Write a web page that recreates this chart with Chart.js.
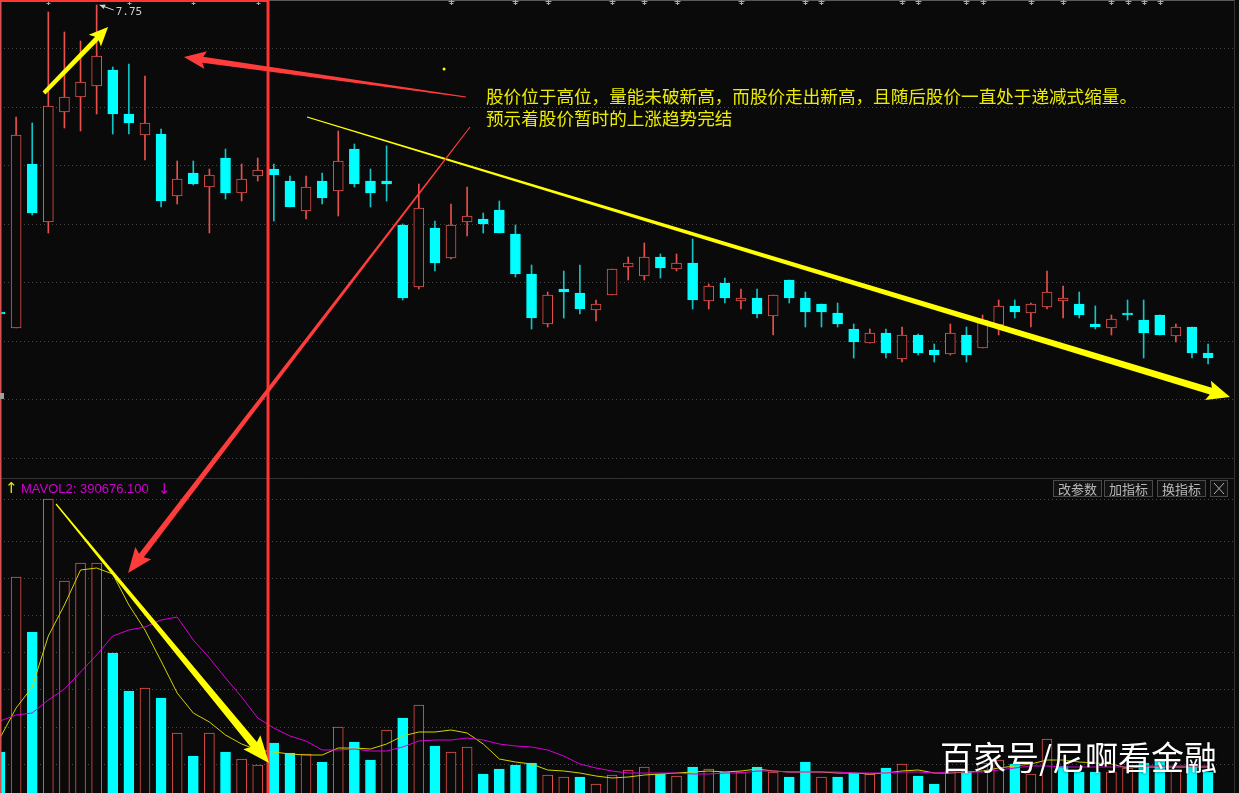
<!DOCTYPE html>
<html>
<head>
<meta charset="utf-8">
<script src="https://cdn.jsdelivr.net/npm/chart.js@4.4.1/dist/chart.umd.min.js"></script>
<style>
  html, body { margin: 0; padding: 0; background: #0a0a0a; overflow: hidden; }
  #wrap { width: 1239px; height: 793px; }
</style>
</head>
<body>
<div id="wrap"><canvas id="kline" width="1239" height="793"></canvas></div>
<script>
// daily candles (index 0 is the half-cut one on the left edge)
const open = [6.215, 6.135, 6.955, 6.665, 7.215, 7.290, 7.345, 7.425, 7.205, 7.100,
  7.105, 6.795, 6.910, 6.840, 6.985, 6.810, 6.895, 6.930, 6.870, 6.720,
  6.870, 6.820, 7.030, 6.870, 6.870, 6.650, 6.340, 6.635, 6.485, 6.665,
  6.680, 6.725, 6.605, 6.405, 6.155, 6.330, 6.310, 6.225, 6.300, 6.440,
  6.395, 6.490, 6.430, 6.460, 6.270, 6.360, 6.270, 6.285, 6.195, 6.375,
  6.285, 6.255, 6.210, 6.130, 6.060, 6.110, 5.980, 6.100, 6.025, 6.005,
  6.100, 6.035, 6.150, 6.245, 6.210, 6.240, 6.270, 6.255, 6.155, 6.135,
  6.210, 6.175, 6.200, 6.095, 6.140, 6.010];
const high = [6.235, 7.190, 7.160, 7.715, 7.615, 7.570, 7.750, 7.440, 7.455, 7.395,
  7.130, 6.970, 6.970, 6.930, 7.030, 6.955, 6.985, 6.955, 6.895, 6.895,
  6.910, 7.120, 7.055, 6.930, 7.045, 6.655, 6.855, 6.670, 6.755, 6.840,
  6.710, 6.770, 6.650, 6.450, 6.315, 6.420, 6.450, 6.275, 6.430, 6.490,
  6.560, 6.505, 6.505, 6.580, 6.355, 6.385, 6.330, 6.330, 6.300, 6.375,
  6.315, 6.255, 6.260, 6.155, 6.130, 6.130, 6.140, 6.105, 6.055, 6.155,
  6.140, 6.200, 6.275, 6.275, 6.260, 6.420, 6.345, 6.315, 6.245, 6.200,
  6.275, 6.275, 6.200, 6.155, 6.140, 6.055];
const low = [6.185, 6.135, 6.700, 6.610, 7.135, 7.120, 7.205, 7.105, 7.105, 6.975,
  6.740, 6.755, 6.850, 6.610, 6.780, 6.770, 6.870, 6.670, 6.740, 6.680,
  6.755, 6.695, 6.840, 6.740, 6.770, 6.275, 6.330, 6.420, 6.480, 6.595,
  6.610, 6.610, 6.390, 6.130, 6.140, 6.185, 6.205, 6.170, 6.300, 6.375,
  6.375, 6.385, 6.420, 6.230, 6.230, 6.260, 6.230, 6.185, 6.100, 6.260,
  6.140, 6.140, 6.140, 5.985, 6.060, 5.985, 5.965, 6.000, 5.965, 6.000,
  5.965, 6.035, 6.100, 6.185, 6.140, 6.230, 6.185, 6.185, 6.130, 6.100,
  6.175, 5.985, 6.100, 6.065, 5.985, 5.955];
const close = [6.205, 7.100, 6.710, 7.245, 7.290, 7.365, 7.495, 7.205, 7.160, 7.160,
  6.770, 6.880, 6.855, 6.900, 6.810, 6.880, 6.925, 6.900, 6.740, 6.840,
  6.785, 6.970, 6.855, 6.810, 6.855, 6.285, 6.735, 6.460, 6.650, 6.695,
  6.655, 6.610, 6.405, 6.185, 6.300, 6.315, 6.230, 6.255, 6.430, 6.460,
  6.490, 6.435, 6.460, 6.275, 6.345, 6.285, 6.285, 6.205, 6.300, 6.285,
  6.215, 6.215, 6.155, 6.065, 6.110, 6.010, 6.100, 6.010, 6.000, 6.110,
  6.000, 6.175, 6.245, 6.215, 6.255, 6.315, 6.285, 6.200, 6.140, 6.180,
  6.200, 6.110, 6.100, 6.140, 6.010, 5.985];

// volume in 万手, and its colour (1 = red hollow, 0 = cyan)
const vol = [53.9, 246.4, 185.9, 332.2, 242.0, 261.8, 261.8, 162.8, 121.0, 124.3,
  113.3, 74.8, 49.5, 74.8, 53.9, 46.2, 39.6, 63.8, 52.8, 51.7,
  42.9, 81.4, 64.9, 45.1, 78.1, 91.3, 105.6, 60.5, 53.9, 59.4,
  29.7, 35.2, 39.6, 41.8, 28.6, 26.4, 26.4, 18.7, 28.6, 34.1,
  37.4, 29.7, 27.5, 37.4, 35.2, 31.9, 31.9, 37.4, 31.9, 26.4,
  42.9, 26.4, 26.4, 30.8, 29.7, 36.3, 40.7, 27.5, 18.7, 33.0,
  33.0, 41.8, 45.1, 40.7, 29.7, 68.2, 38.5, 31.9, 31.9, 31.9,
  36.3, 41.8, 46.2, 34.1, 38.5, 31.9];
const volUp = [0, 1, 0, 1, 1, 1, 1, 0, 0, 1, 0, 1, 0, 1, 0, 1, 1, 0, 0, 1,
  0, 1, 0, 0, 1, 0, 1, 0, 1, 1, 0, 0, 0, 0, 1, 1, 0, 1, 1, 1,
  1, 0, 1, 0, 1, 0, 1, 0, 1, 0, 0, 1, 0, 0, 1, 0, 1, 0, 0, 1,
  0, 1, 1, 0, 1, 1, 0, 0, 0, 1, 1, 0, 0, 1, 0, 0];
// MAVOL1 (yellow) and MAVOL2 (magenta)
const mavol1 = [69.3, 102.3, 125.4, 181.5, 215.6, 254.1, 256.3, 249.7, 215.6, 188.1,
  154.0, 118.8, 96.8, 86.9, 72.6, 62.7, 56.1, 53.9, 51.7, 50.6,
  50.6, 58.3, 58.3, 57.2, 62.7, 71.5, 75.9, 75.9, 78.1, 74.8,
  62.7, 46.2, 42.9, 40.7, 34.1, 33.0, 30.8, 27.5, 25.3, 26.4,
  28.6, 29.7, 30.8, 31.9, 33.0, 31.9, 33.0, 35.2, 33.0, 31.9,
  31.9, 31.9, 30.8, 30.8, 29.7, 30.8, 33.0, 34.1, 30.8, 30.8,
  31.9, 33.0, 36.3, 38.5, 40.7, 45.1, 45.1, 42.9, 41.8, 40.7,
  36.3, 37.4, 37.4, 37.4, 37.4, 37.4];
const mavol2 = [88.0, 94.6, 96.8, 111.1, 123.2, 141.9, 160.6, 181.5, 188.1, 191.4,
  199.1, 202.4, 177.1, 157.3, 135.3, 114.4, 91.3, 80.3, 71.5, 66.0,
  56.1, 56.1, 57.2, 55.0, 55.0, 59.4, 66.0, 67.1, 67.1, 69.3,
  67.1, 62.7, 60.5, 59.4, 56.1, 49.5, 40.7, 36.3, 33.0, 30.8,
  30.8, 30.8, 30.8, 29.7, 29.7, 30.8, 30.8, 33.0, 33.0, 31.9,
  31.9, 31.9, 31.9, 30.8, 30.8, 30.8, 31.9, 31.9, 30.8, 31.9,
  31.9, 31.9, 34.1, 36.3, 38.5, 38.5, 37.4, 37.4, 37.4, 37.4,
  37.4, 38.5, 38.5, 38.5, 38.5, 38.5];

// info-mine marks along the top edge (candle indexes)
const infoMarks = [3, 8, 12, 16, 28, 32, 34, 38, 40, 42, 46, 50, 51, 56, 57, 60, 61, 64, 66, 69, 70, 71, 72];
// dotted grid levels of the two panels
const priceGrid = [7.535, 7.2425, 6.95, 6.6575, 6.365, 6.0725, 5.78, 5.4875];
const volGrid = [40.9, 81.8, 122.7, 163.6, 204.5, 245.4, 286.3, 331.9];
const highMark = { x: 6, price: 7.75, text: '7.75' };
const mavolText = 'MAVOL2: 390676.100';
const noteLines = ['股价位于高位，量能未破新高，而股价走出新高，且随后股价一直处于递减式缩量。', '预示着股价暂时的上涨趋势完结'];
const buttons = ['改参数', '加指标', '换指标'];
const watermark = '百家号/尼啊看金融';

const BG = '#0a0a0a';
const RED = '#e8504c';
const CYAN = '#00ffff';
const CYAN_WICK = '#12c4c4';

const isUp = open.map((o, i) => close[i] > o);

// hand drawn marks, in data units: [index, value, axis]
const arrows = [
  { from: [2.73, 7.31, 'y'], to: [6.71, 7.64, 'y'], color: '#ffff00', w0: 4, w1: 5, hw: 17, hl: 16 },
  { from: [19.06, 7.19, 'y'], to: [76.36, 5.79, 'y'], color: '#ffff00', w0: 1.2, w1: 7, hw: 20, hl: 20 },
  { from: [3.48, 326.7, 'yv'], to: [16.70, 41.8, 'yv'], color: '#ffff00', w0: 1.2, w1: 8, hw: 22, hl: 24 },
  { from: [28.93, 7.29, 'y'], to: [11.42, 7.49, 'y'], color: '#ff3c3c', w0: 1.2, w1: 6, hw: 18, hl: 19 },
  { from: [29.18, 7.14, 'y'], to: [7.95, 250.8, 'yv'], color: '#ff3c3c', w0: 1, w1: 6, hw: 20, hl: 22 }
];
const boxRight = 16.64;   // red frame right edge (index units)
const frameRight = 76.6;  // right border of the panels

function taperArrow(ctx, x0, y0, x1, y1, a) {
  const dx = x1 - x0, dy = y1 - y0, len = Math.hypot(dx, dy);
  const ux = dx / len, uy = dy / len, nx = -uy, ny = ux;
  const bx = x1 - ux * a.hl, by = y1 - uy * a.hl;
  ctx.fillStyle = a.color;
  ctx.beginPath();
  ctx.moveTo(x0 + nx * a.w0 / 2, y0 + ny * a.w0 / 2);
  ctx.lineTo(bx + nx * a.w1 / 2, by + ny * a.w1 / 2);
  ctx.lineTo(bx - ux * 3 + nx * a.hw / 2, by - uy * 3 + ny * a.hw / 2);
  ctx.lineTo(x1, y1);
  ctx.lineTo(bx - ux * 3 - nx * a.hw / 2, by - uy * 3 - ny * a.hw / 2);
  ctx.lineTo(bx - nx * a.w1 / 2, by - ny * a.w1 / 2);
  ctx.lineTo(x0 - nx * a.w0 / 2, y0 - ny * a.w0 / 2);
  ctx.closePath();
  ctx.fill();
}

const drawings = {
  id: 'drawings',
  beforeDraw(chart) {
    const ctx = chart.ctx;
    ctx.save();
    ctx.fillStyle = BG;
    ctx.fillRect(0, 0, chart.width, chart.height);
    ctx.restore();
  },
  beforeDatasetsDraw(chart) {
    const { ctx, scales } = chart;
    const xr = scales.x.getPixelForValue(frameRight);
    ctx.save();
    ctx.strokeStyle = '#4a4a4a';
    ctx.lineWidth = 1;
    ctx.setLineDash([1, 3]);
    priceGrid.forEach(v => {
      const y = Math.round(scales.y.getPixelForValue(v)) + 0.5;
      ctx.beginPath(); ctx.moveTo(0, y); ctx.lineTo(xr, y); ctx.stroke();
    });
    volGrid.forEach(v => {
      const y = Math.round(scales.yv.getPixelForValue(v)) + 0.5;
      ctx.beginPath(); ctx.moveTo(0, y); ctx.lineTo(xr, y); ctx.stroke();
    });
    ctx.restore();
  },
  afterDatasetsDraw(chart) {
    const { ctx, scales } = chart;
    const X = v => scales.x.getPixelForValue(v);
    const Y = (v, ax) => scales[ax].getPixelForValue(v);
    const xr = Math.round(X(frameRight)) + 0.5;
    const sepY = Math.round(Y(priceGrid[7], 'y') + 20) + 0.5;
    const xb = X(boxRight);
    ctx.save();

    // panel frame
    ctx.strokeStyle = '#333';
    ctx.lineWidth = 1;
    ctx.beginPath(); ctx.moveTo(0, sepY); ctx.lineTo(xr, sepY); ctx.stroke();
    ctx.beginPath(); ctx.moveTo(xr, 0); ctx.lineTo(xr, chart.height); ctx.stroke();
    ctx.strokeStyle = '#5a5a5a';
    ctx.beginPath(); ctx.moveTo(xb, 0.5); ctx.lineTo(xr, 0.5); ctx.stroke();

    // info marks
    ctx.strokeStyle = '#a8a8a8';
    infoMarks.forEach(i => {
      const x = Math.round(X(i)) + 0.5;
      ctx.beginPath();
      ctx.moveTo(x, 0); ctx.lineTo(x, 5);
      ctx.moveTo(x - 3, 1.5); ctx.lineTo(x + 3, 1.5);
      ctx.moveTo(x - 2, 3.5); ctx.lineTo(x + 2, 3.5);
      ctx.stroke();
    });

    // red frame
    ctx.strokeStyle = '#ff3434';
    ctx.lineWidth = 2;
    ctx.beginPath(); ctx.moveTo(0, 1); ctx.lineTo(xb, 1); ctx.stroke();
    ctx.lineWidth = 3;
    ctx.beginPath(); ctx.moveTo(xb, 0); ctx.lineTo(xb, chart.height); ctx.stroke();
    ctx.strokeStyle = '#d85050';
    ctx.lineWidth = 1.5;
    ctx.beginPath(); ctx.moveTo(0.75, 0); ctx.lineTo(0.75, chart.height); ctx.stroke();

    // left price marker
    ctx.fillStyle = '#a0a0a0';
    ctx.fillRect(0, Math.round(Y(5.795, 'y')) - 3, 4, 6);

    // arrows
    arrows.forEach(a => {
      taperArrow(ctx, X(a.from[0]), Y(a.from[1], a.from[2]), X(a.to[0]), Y(a.to[1], a.to[2]), a);
    });
    ctx.fillStyle = '#ffff00';
    ctx.beginPath(); ctx.arc(X(27.57), Y(7.43, 'y'), 1.5, 0, Math.PI * 2); ctx.fill();

    // highest price label
    const hx = X(highMark.x) + 3, hy = Y(highMark.price, 'y');
    ctx.strokeStyle = '#d0d0d0';
    ctx.fillStyle = '#d0d0d0';
    ctx.lineWidth = 1;
    ctx.beginPath(); ctx.moveTo(hx, hy); ctx.lineTo(hx + 14, hy + 5); ctx.stroke();
    ctx.beginPath(); ctx.moveTo(hx, hy); ctx.lineTo(hx + 6, hy - 0.5); ctx.lineTo(hx + 4, hy + 4); ctx.closePath(); ctx.fill();
    ctx.font = '11px "DejaVu Sans Mono"';
    ctx.textBaseline = 'middle';
    ctx.fillText(highMark.text, hx + 16, hy + 7);

    // note text
    ctx.fillStyle = '#ecec00';
    ctx.font = '17.6px "Noto Sans CJK SC"';
    ctx.textBaseline = 'middle';
    ctx.fillText(noteLines[0], 486, 96);
    ctx.fillText(noteLines[1], 486, 118);

    // volume header
    ctx.font = '13px "Liberation Sans", "DejaVu Sans"';
    ctx.fillStyle = '#e8e800';
    ctx.font = '15px "DejaVu Sans"';
    ctx.fillText('↑', 5, 489);
    ctx.fillStyle = '#d000d0';
    ctx.fillText('↓', 158, 490);
    ctx.font = '13px "Liberation Sans", "DejaVu Sans"';
    ctx.fillText(mavolText, 21, 489);

    // buttons
    const bx = [1053, 1104, 1157];
    ctx.font = '13px "Noto Sans CJK SC"';
    ctx.textAlign = 'center';
    buttons.forEach((b, i) => {
      ctx.fillStyle = '#121212';
      ctx.fillRect(bx[i], 480, 49, 17);
      ctx.strokeStyle = '#4a4a4a';
      ctx.strokeRect(bx[i] + 0.5, 480.5, 48, 16);
      ctx.fillStyle = '#b8b8b8';
      ctx.fillText(b, bx[i] + 24.5, 489);
    });
    ctx.fillStyle = '#121212';
    ctx.fillRect(1210, 480, 18, 17);
    ctx.strokeStyle = '#4a4a4a';
    ctx.strokeRect(1210.5, 480.5, 17, 16);
    ctx.strokeStyle = '#b0b0b0';
    ctx.beginPath();
    ctx.moveTo(1214, 483); ctx.lineTo(1224, 494);
    ctx.moveTo(1224, 483); ctx.lineTo(1214, 494);
    ctx.stroke();

    // watermark
    ctx.textAlign = 'left';
    ctx.font = '33px "Noto Sans CJK SC"';
    ctx.shadowColor = 'rgba(0,0,0,0.7)';
    ctx.shadowBlur = 3;
    ctx.fillStyle = '#ffffff';
    ctx.fillText(watermark, 940, 757);
    ctx.restore();
  }
};

new Chart(document.getElementById('kline'), {
  type: 'bar',
  data: {
    datasets: [
      {
        type: 'line', label: 'MAVOL1', yAxisID: 'yv',
        data: mavol1.map((v, i) => ({ x: i, y: v })),
        borderColor: '#d2d200', borderWidth: 1, pointRadius: 0, tension: 0, order: 1
      },
      {
        type: 'line', label: 'MAVOL2', yAxisID: 'yv',
        data: mavol2.map((v, i) => ({ x: i, y: v })),
        borderColor: '#d800d8', borderWidth: 1, pointRadius: 0, tension: 0, order: 0
      },
      {
        label: 'VOL', yAxisID: 'yv',
        data: vol.map((v, i) => ({ x: i, y: v })),
        backgroundColor: volUp.map(u => u ? BG : CYAN),
        borderColor: volUp.map(u => u ? RED : CYAN),
        borderWidth: 1, borderSkipped: false, barThickness: 10, grouped: false, order: 3
      },
      {
        label: 'body', yAxisID: 'y',
        data: open.map((o, i) => ({ x: i, y: [o, close[i]] })),
        backgroundColor: isUp.map(u => u ? BG : CYAN),
        borderColor: isUp.map(u => u ? RED : CYAN),
        borderWidth: 1, borderSkipped: false, barThickness: 10, minBarLength: 1, grouped: false, order: 4
      },
      {
        label: 'wick', yAxisID: 'y',
        data: high.map((h, i) => ({ x: i, y: [low[i], h] })),
        backgroundColor: isUp.map(u => u ? RED : CYAN_WICK),
        borderWidth: 0, barThickness: 1, grouped: false, order: 5
      }
    ]
  },
  options: {
    responsive: false,
    devicePixelRatio: 1,
    animation: false,
    events: [],
    layout: { padding: 0, autoPadding: false },
    plugins: { legend: { display: false }, tooltip: { enabled: false } },
    scales: {
      x: { type: 'linear', min: 0, max: 76.92, offset: false, display: false },
      y: { type: 'linear', min: 3.81, max: 7.775, display: false },
      yv: { type: 'linear', min: 8.8, max: 881.1, display: false }
    }
  },
  plugins: [drawings]
});
</script>
</body>
</html>
